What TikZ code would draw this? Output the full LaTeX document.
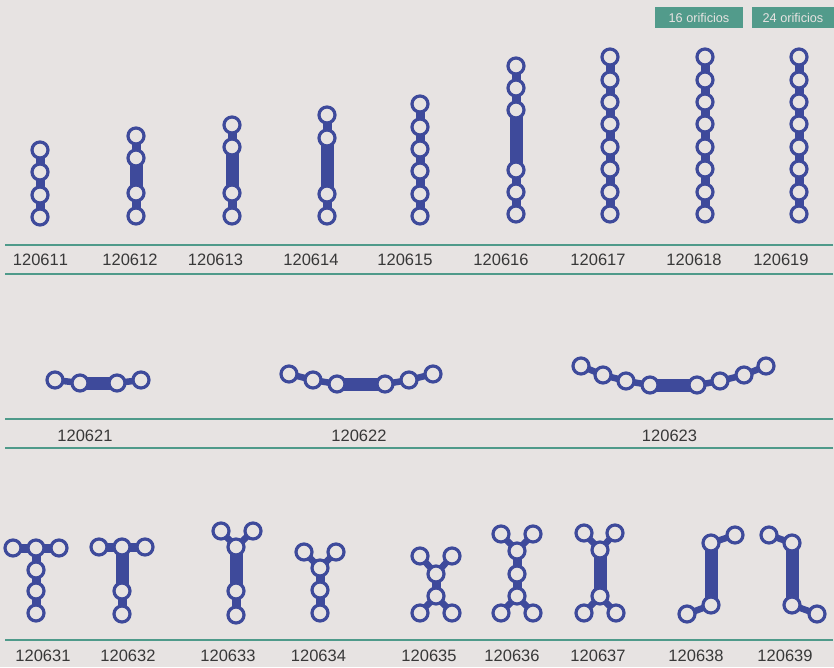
\documentclass[tikz,border=0pt]{standalone}
\usepackage{fontspec}
\setmainfont[Kerning=Off]{Liberation Sans}
\definecolor{bgc}{HTML}{E7E3E2}
\definecolor{plate}{HTML}{3E4A9B}
\definecolor{rule}{HTML}{4F9A8A}
\definecolor{badgec}{HTML}{529B8B}
\definecolor{labelc}{HTML}{383838}
\pgfdeclarelayer{links}
\pgfsetlayers{links,main}
\tikzset{
  hole/.style={circle,draw=plate,fill=bgc,line width=3.2pt,minimum size=16pt,inner sep=0pt},
  thinlink/.style={draw=plate,line width=9pt},
  widelink/.style={draw=plate,line width=13pt},
  armlink/.style={draw=plate,line width=6.5pt},
  rulerline/.style={draw=rule,line width=2pt},
  codelabel/.style={font=\fontsize{16.5}{18}\selectfont,text=labelc,inner sep=0pt},
  badge/.style={fill=badgec,text=bgc,font=\fontsize{12.7}{14}\selectfont,inner sep=0pt,minimum height=21pt}
}
\newcommand\plateholes[2]{\foreach[count=\i] \px/\py in {#2} {\node[hole] (p#1-\i) at (\px,\py) {};}}
\newcommand\plinks[3]{\begin{pgfonlayer}{links}\foreach \a/\b in {#3} {\draw[#1] (p#2-\a.center) -- (p#2-\b.center);}\end{pgfonlayer}}
\begin{document}
\begin{tikzpicture}[x=1pt,y=-1pt]
\useasboundingbox (0,0) rectangle (834,667);
\begin{pgfonlayer}{links}\fill[bgc] (0,0) rectangle (834,667);\end{pgfonlayer}

% badges
\node[badge,minimum width=88pt] (b16) at (699,17.5) {16 orificios};
\node[badge,minimum width=82pt] (b24) at (793,17.5) {24 orificios};

% rules
\coordinate (r1a) at (5,244.5); \coordinate (r1b) at (833,244.5);
\coordinate (r2a) at (5,273.5); \coordinate (r2b) at (833,273.5);
\coordinate (r3a) at (5,419); \coordinate (r3b) at (833,419);
\coordinate (r4a) at (5,448); \coordinate (r4b) at (833,448);
\coordinate (r5a) at (5,640); \coordinate (r5b) at (833,640);
\foreach \r in {1,...,5} {\draw[rulerline] (r\r a) -- (r\r b);}

% row 1
\plateholes{11}{40/150,40/172,40/195,40/217}
\plinks{thinlink}{11}{1/2,2/3,3/4}
\plateholes{12}{136/136,136/158,136/193,136/216}
\plinks{thinlink}{12}{1/2,3/4}\plinks{widelink}{12}{2/3}
\plateholes{13}{232/125,232/147,232/193,232/216}
\plinks{thinlink}{13}{1/2,3/4}\plinks{widelink}{13}{2/3}
\plateholes{14}{327/115,327/138,327/194,327/216}
\plinks{thinlink}{14}{1/2,3/4}\plinks{widelink}{14}{2/3}
\plateholes{15}{420/104,420/127,420/149,420/171,420/194,420/216}
\plinks{thinlink}{15}{1/2,2/3,3/4,4/5,5/6}
\plateholes{16}{516/66,516/88,516/110,516/170,516/192,516/214}
\plinks{thinlink}{16}{1/2,2/3,4/5,5/6}\plinks{widelink}{16}{3/4}
\plateholes{17}{610/57,610/80,610/102,610/124,610/147,610/169,610/192,610/214}
\plinks{thinlink}{17}{1/2,2/3,3/4,4/5,5/6,6/7,7/8}
\plateholes{18}{705/57,705/80,705/102,705/124,705/147,705/169,705/192,705/214}
\plinks{thinlink}{18}{1/2,2/3,3/4,4/5,5/6,6/7,7/8}
\plateholes{19}{799/57,799/80,799/102,799/124,799/147,799/169,799/192,799/214}
\plinks{thinlink}{19}{1/2,2/3,3/4,4/5,5/6,6/7,7/8}

\node[codelabel] (l11) at (40.5,260) {120611};
\node[codelabel] (l12) at (130,260) {120612};
\node[codelabel] (l13) at (215.5,260) {120613};
\node[codelabel] (l14) at (311,260) {120614};
\node[codelabel] (l15) at (405,260) {120615};
\node[codelabel] (l16) at (501,260) {120616};
\node[codelabel] (l17) at (598,260) {120617};
\node[codelabel] (l18) at (694,260) {120618};
\node[codelabel] (l19) at (781,260) {120619};

% row 2
\plateholes{21}{55/380,80/383,117/383,141/380}
\plinks{armlink}{21}{1/2,3/4}\plinks{widelink}{21}{2/3}
\plateholes{22}{289/374,313/380,337/384,385/384,409/380,433/374}
\plinks{armlink}{22}{1/2,2/3,4/5,5/6}\plinks{widelink}{22}{3/4}
\plateholes{23}{581/366,603/375,626/381,650/385,697/385,720/381,744/375,766/366}
\plinks{armlink}{23}{1/2,2/3,3/4,5/6,6/7,7/8}\plinks{widelink}{23}{4/5}

\node[codelabel] (l21) at (85,436) {120621};
\node[codelabel] (l22) at (359,436) {120622};
\node[codelabel] (l23) at (669.5,436) {120623};

% row 3
\plateholes{31}{13/548,36/548,59/548,36/570,36/591,36/613}
\plinks{thinlink}{31}{1/2,2/3,2/4,4/5,5/6}
\plateholes{32}{99/547,122/547,145/547,122/591,122/614}
\plinks{thinlink}{32}{1/2,2/3,4/5}\plinks{widelink}{32}{2/4}
\plateholes{33}{221/531,253/531,236/547,236/591,236/615}
\plinks{armlink}{33}{1/3,2/3}\plinks{thinlink}{33}{4/5}\plinks{widelink}{33}{3/4}
\plateholes{34}{304/552,336/552,320/568,320/590,320/613}
\plinks{armlink}{34}{1/3,2/3}\plinks{thinlink}{34}{3/4,4/5}
\plateholes{35}{420/556,452/556,436/574,436/596,420/613,452/613}
\plinks{armlink}{35}{1/3,2/3,4/5,4/6}\plinks{thinlink}{35}{3/4}
\plateholes{36}{501/534,533/534,517/551,517/574,517/596,501/613,533/613}
\plinks{armlink}{36}{1/3,2/3,5/6,5/7}\plinks{thinlink}{36}{3/4,4/5}
\plateholes{37}{584/533,615/533,600/550,600/596,584/613,616/613}
\plinks{armlink}{37}{1/3,2/3,4/5,4/6}\plinks{widelink}{37}{3/4}
\plateholes{38}{687/614,711/605,711/543,735/535}
\plinks{armlink}{38}{1/2,3/4}\plinks{widelink}{38}{2/3}
\plateholes{39}{769/535,792/543,792/605,817/614}
\plinks{armlink}{39}{1/2,3/4}\plinks{widelink}{39}{2/3}

\node[codelabel] (l31) at (43,656) {120631};
\node[codelabel] (l32) at (128,656) {120632};
\node[codelabel] (l33) at (228,656) {120633};
\node[codelabel] (l34) at (318.5,656) {120634};
\node[codelabel] (l35) at (429,656) {120635};
\node[codelabel] (l36) at (512,656) {120636};
\node[codelabel] (l37) at (598,656) {120637};
\node[codelabel] (l38) at (696,656) {120638};
\node[codelabel] (l39) at (785,656) {120639};
\end{tikzpicture}
\end{document}
